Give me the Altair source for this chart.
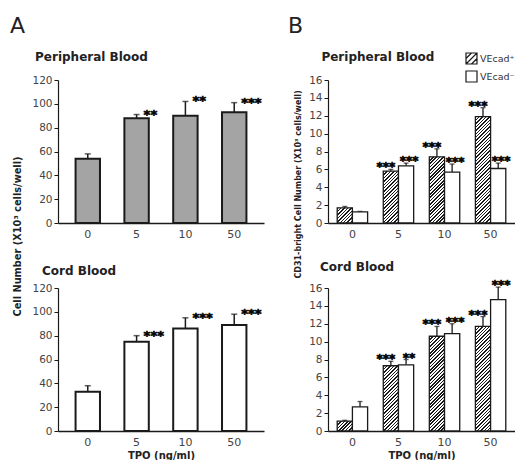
import altair as alt
import pandas as pd

FONT = "DejaVu Sans"
INK = "#1a1a1a"
NB = "\u00a0"
ZW = "\u200b"

# ---------------- data ----------------
TPO = ["0", "5", "10", "50"]
GROUPS = ["VEcad\u207a", "VEcad\u207b"]

A_PB_MEAN = [54, 88, 90, 93]
A_PB_SEM = [4, 3, 12, 8]
A_PB_STARS = ["", "**", "**", "***"]

A_CB_MEAN = [33, 75, 86, 89]
A_CB_SEM = [5, 5, 9, 9]
A_CB_STARS = ["", "***", "***", "***"]

B_PB_POS_MEAN = [1.7, 5.8, 7.4, 11.9]
B_PB_POS_SEM = [0.15, 0.2, 0.9, 1.0]
B_PB_NEG_MEAN = [1.25, 6.4, 5.7, 6.1]
B_PB_NEG_SEM = [0.05, 0.3, 0.9, 0.6]
B_PB_POS_STARS = ["", "***", "***", "***"]
B_PB_NEG_STARS = ["", "***", "***", "***"]

B_CB_POS_MEAN = [1.1, 7.3, 10.6, 11.7]
B_CB_POS_SEM = [0.1, 0.5, 1.1, 1.1]
B_CB_NEG_MEAN = [2.7, 7.4, 10.9, 14.7]
B_CB_NEG_SEM = [0.6, 0.6, 1.1, 1.4]
B_CB_POS_STARS = ["", "***", "***", "***"]
B_CB_NEG_STARS = ["", "**", "***", "***"]

# ---------------- layout / style ----------------
A_W, B_W, H = 206, 187, 143
COL_GAP, ROW_GAP = 64, 65
A_PAD_IN, A_PAD_OUT = 0.5, 0.36
B_PAD_IN, B_PAD_OUT = 0.34, 0.2
B_MAX = 16

HATCH_PATH = "M-1,-1H1V1H-1Z M-1,0L0,-1 M-1,1L1,-1 M0,1L1,0"
BOX_PATH = "M-1,-1H1V1H-1Z"


def hatch(w, h, period=3.4, dark=0.42):
    L = w + h
    d = w * w + h * h
    stops = []
    k = 0.0
    while k < L - 1e-9:
        a = round(k / L, 5)
        b = round(min((k + period * dark) / L, 1.0), 5)
        c = round(min((k + period) / L, 1.0), 5)
        stops += [
            {"offset": a, "color": INK},
            {"offset": b, "color": INK},
            {"offset": b, "color": "#ffffff"},
            {"offset": c, "color": "#ffffff"},
        ]
        k += period
    return {"gradient": "linear", "x1": 0, "y1": 0,
            "x2": L * w / d, "y2": L * h / d, "stops": stops}


def x_axis(title):
    kw = dict(labelAngle=0, ticks=False, domainColor=INK, domainWidth=1.6,
              labelFont=FONT, labelFontSize=11, labelColor="#444", labelPadding=5)
    if title:
        kw.update(title=title, titleFont=FONT, titleFontSize=10, titleFontWeight="bold",
                  titleColor="#222", titlePadding=3)
    else:
        kw["title"] = None
    return alt.Axis(**kw)


def y_axis(values, title=None, tx=0, ty=0, tsize=9):
    kw = dict(values=values, grid=False, domainColor=INK, domainWidth=1.2,
              tickColor=INK, tickSize=4, tickWidth=1, labelFont=FONT,
              labelFontSize=10.5, labelColor="#444", labelPadding=2)
    if title:
        kw.update(title=title, titleX=tx, titleY=ty, titleFont=FONT, titleFontSize=tsize,
                  titleFontWeight="bold", titleColor="#222", titleAngle=270,
                  titleAlign="center", titleBaseline="bottom")
    else:
        kw["title"] = None
    return alt.Axis(**kw)


def star_text(base, **kw):
    return base.mark_text(baseline="middle", font=FONT, fontWeight="bold",
                          fill="#000000", stroke="#000000", strokeWidth=0.6, **kw)


def panel_a(mean, sem, stars, fill, title, xtitle=None, yax=None):
    df = pd.DataFrame({"tpo": TPO, "mean": mean,
                       "top": [m + s for m, s in zip(mean, sem)], "stars": stars})
    base = alt.Chart(df)
    x = alt.X("tpo:N", sort=TPO,
              scale=alt.Scale(domain=TPO, paddingInner=A_PAD_IN, paddingOuter=A_PAD_OUT),
              axis=x_axis(xtitle))
    ys = alt.Scale(domain=[0, 120])
    err = base.mark_rule(color=INK, strokeWidth=1.5).encode(
        x=x, y=alt.Y("mean:Q", scale=ys, axis=yax), y2="top:Q")
    cap = base.mark_tick(color=INK, thickness=1.5, size=6).encode(
        x=x, y=alt.Y("top:Q", scale=ys, axis=yax))
    bars = base.mark_bar(fill=fill, stroke=INK, strokeWidth=2).encode(
        x=x, y=alt.Y("mean:Q", scale=ys, axis=yax))
    txt = star_text(base, align="left", dx=7, dy=0, fontSize=13).encode(
        x=x, y=alt.Y("top:Q", scale=ys, axis=yax), text="stars:N")
    return alt.layer(err, cap, bars, txt).properties(width=A_W, height=H, title=title)


def panel_b(pm, ps, nm, ns, pst, nst, title, xtitle=None, yax=None, legend=False):
    rows = []
    for i, t in enumerate(TPO):
        rows.append({"tpo": t, "group": GROUPS[0], "key": f"p{i}", "mean": pm[i],
                     "top": pm[i] + ps[i], "stars": pst[i]})
        rows.append({"tpo": t, "group": GROUPS[1], "key": f"n{i}", "mean": nm[i],
                     "top": nm[i] + ns[i], "stars": nst[i]})
    df = pd.DataFrame(rows)
    base = alt.Chart(df)
    x = alt.X("tpo:N", sort=TPO,
              scale=alt.Scale(domain=TPO, paddingInner=B_PAD_IN, paddingOuter=B_PAD_OUT),
              axis=x_axis(xtitle))
    xo = alt.XOffset("group:N", scale=alt.Scale(domain=GROUPS), sort=GROUPS)
    ys = alt.Scale(domain=[0, B_MAX])
    ymean = alt.Y("mean:Q", scale=ys, axis=yax)
    ytop = alt.Y("top:Q", scale=ys, axis=yax)

    step = B_W / (len(TPO) - B_PAD_IN + 2 * B_PAD_OUT)
    bw = step * (1 - B_PAD_IN) / 2
    layers = []
    layers.append(base.mark_rule(color=INK, strokeWidth=1.3).encode(
        x=x, xOffset=xo, y=ymean, y2="top:Q"))
    layers.append(base.mark_tick(color=INK, thickness=1.3, size=5).encode(
        x=x, xOffset=xo, y=ytop))
    for i in range(len(TPO)):
        hpx = pm[i] * H / B_MAX
        layers.append(base.transform_filter(alt.datum.key == f"p{i}").mark_bar(
            fill=hatch(bw, hpx), stroke=INK, strokeWidth=1.3).encode(
            x=x, xOffset=xo, y=ymean))
    layers.append(base.transform_filter(alt.datum.group == GROUPS[1]).mark_bar(
        fill="#ffffff", stroke=INK, strokeWidth=1.3).encode(x=x, xOffset=xo, y=ymean))
    for g, dx in ((GROUPS[0], -5), (GROUPS[1], 3)):
        layers.append(star_text(base.transform_filter(alt.datum.group == g),
                                align="center", dx=dx, dy=-2, fontSize=12).encode(
            x=x, xOffset=xo, y=ytop, text="stars:N"))
    if legend:
        layers.append(base.mark_point(opacity=0, filled=False, color=INK).encode(
            x=x, xOffset=xo, y=ymean,
            shape=alt.Shape("group:N", scale=alt.Scale(domain=GROUPS, range=[HATCH_PATH, BOX_PATH]),
                            legend=alt.Legend(orient="none", legendX=A_W + COL_GAP + 137,
                                              legendY=-28, title=None,
                                              symbolSize=121, symbolStrokeWidth=1.2,
                                              symbolOpacity=1, symbolFillColor="#ffffff",
                                              symbolStrokeColor=INK,
                                              labelFont=FONT, labelFontSize=9.5,
                                              labelColor="#333", labelOffset=2,
                                              rowPadding=1, padding=0))))
    return alt.layer(*layers).properties(width=B_W, height=H, title=title)


A_YVALS = list(range(0, 121, 20))
B_YVALS = list(range(0, 17, 2))

a_top = panel_a(
    A_PB_MEAN, A_PB_SEM, A_PB_STARS, "#a4a4a4",
    alt.TitleParams(text="A", subtitle=ZW + NB * 6 + "Peripheral Blood", anchor="start",
                    frame="group", dx=-48, offset=11, font=FONT, fontSize=22,
                    fontWeight="normal", color="#222",
                    subtitleFont=FONT, subtitleFontSize=12, subtitleFontWeight="bold",
                    subtitleColor="#222", subtitlePadding=14),
    yax=y_axis(A_YVALS, "Cell Number (X10\u00b3 cells/well)", tx=-36, ty=156, tsize=9.8))

a_bot = panel_a(
    A_CB_MEAN, A_CB_SEM, A_CB_STARS, "#ffffff",
    alt.TitleParams(text="Cord Blood", anchor="start", frame="group", dx=-16, offset=5,
                    font=FONT, fontSize=12, fontWeight="bold", color="#222"),
    xtitle="TPO (ng/ml)", yax=y_axis(A_YVALS))

b_top = panel_b(
    B_PB_POS_MEAN, B_PB_POS_SEM, B_PB_NEG_MEAN, B_PB_NEG_SEM, B_PB_POS_STARS, B_PB_NEG_STARS,
    alt.TitleParams(text="B", subtitle=ZW + NB * 8 + "Peripheral Blood", anchor="start",
                    frame="group", dx=-40, offset=11, font=FONT, fontSize=22,
                    fontWeight="normal", color="#222",
                    subtitleFont=FONT, subtitleFontSize=12, subtitleFontWeight="bold",
                    subtitleColor="#222", subtitlePadding=14),
    yax=y_axis(B_YVALS, "CD31-bright Cell Number (X10\u00b3 cells/well)", tx=-26, ty=104, tsize=8),
    legend=True)

b_bot = panel_b(
    B_CB_POS_MEAN, B_CB_POS_SEM, B_CB_NEG_MEAN, B_CB_NEG_SEM, B_CB_POS_STARS, B_CB_NEG_STARS,
    alt.TitleParams(text="Cord Blood", anchor="start", frame="group", dx=-8, offset=5,
                    font=FONT, fontSize=12, fontWeight="bold", color="#222"),
    xtitle="TPO (ng/ml)", yax=y_axis(B_YVALS))

chart = alt.concat(
    a_top, b_top, a_bot, b_bot, columns=2,
    spacing={"row": ROW_GAP, "column": COL_GAP}, bounds="flush"
).properties(
    padding={"left": 2, "top": 7, "right": 0, "bottom": 0}
).configure_view(stroke=None)

chart.save("out.html", embed_options={"renderer": "svg", "actions": False})
